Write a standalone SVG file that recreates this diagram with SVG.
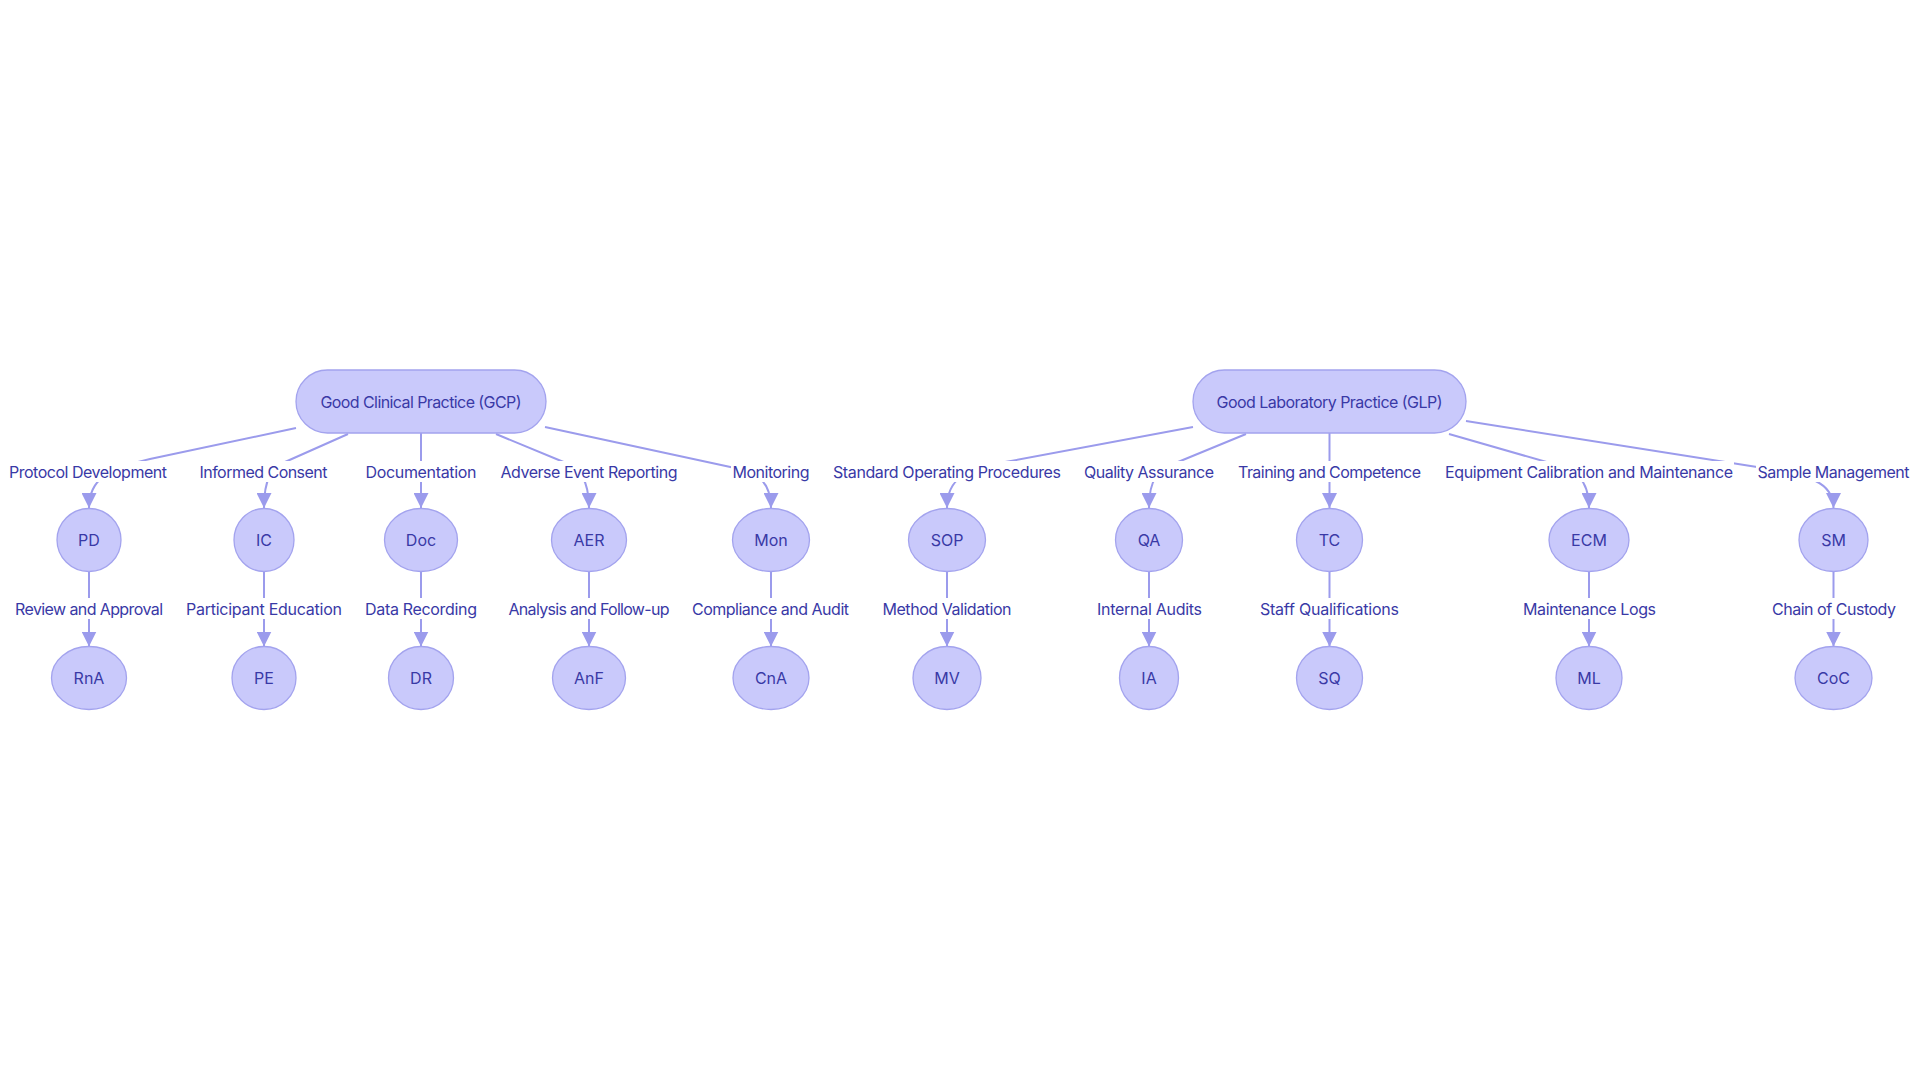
<svg xmlns="http://www.w3.org/2000/svg" width="1920" height="1080" viewBox="0 0 1920 1080">
<style>
.bg{fill:#ffffff}
.node{fill:#c9c9fb;stroke:#a3a3ee;stroke-width:1.3}
.ntext{font-family:Inter,"Noto Sans",sans-serif;font-size:16px;fill:#3939a6;text-anchor:middle}
.edge{fill:none;stroke:#9b9bec;stroke-width:2}
.lbg{fill:#ffffff}
.ltext{font-family:Inter,"Noto Sans",sans-serif;font-size:16px;fill:#3939a6;text-anchor:middle}
</style>
<defs>
<marker id="arr" viewBox="0 0 10 10" refX="10" refY="5" markerUnits="userSpaceOnUse" markerWidth="15" markerHeight="15" orient="auto">
<path d="M0,0 L10,5 L0,10 z" fill="#9b9bec"/>
</marker>
</defs>
<rect class="bg" x="0" y="0" width="1920" height="1080"/>
<g id="connectors">
<path class="edge" marker-end="url(#arr)" d="M296,428 L150,459 C110,468 89,478 89,508"/>
<path class="edge" marker-end="url(#arr)" d="M348,434 L285,462 C272,468 264,478 264,508"/>
<path class="edge" marker-end="url(#arr)" d="M421,433 L421,508"/>
<path class="edge" marker-end="url(#arr)" d="M496,434 L566,463 C578,468 589,478 589,508"/>
<path class="edge" marker-end="url(#arr)" d="M545,427 L735,468 C755,472 771,480 771,508"/>
<path class="edge" marker-end="url(#arr)" d="M1193,427 L1011,461 C965,469 947,478 947,508"/>
<path class="edge" marker-end="url(#arr)" d="M1246,434 L1178,462 C1158,470 1149,478 1149,508"/>
<path class="edge" marker-end="url(#arr)" d="M1329.5,433 L1329.5,508"/>
<path class="edge" marker-end="url(#arr)" d="M1449,434 L1550,463 C1575,470 1589,478 1589,508"/>
<path class="edge" marker-end="url(#arr)" d="M1466,421 L1757,467 C1810,475 1833.5,482 1833.5,508"/>
<path class="edge" marker-end="url(#arr)" d="M89,571.5 L89,646.5"/>
<path class="edge" marker-end="url(#arr)" d="M264,571.5 L264,646.5"/>
<path class="edge" marker-end="url(#arr)" d="M421,571.5 L421,646.5"/>
<path class="edge" marker-end="url(#arr)" d="M589,571.5 L589,646.5"/>
<path class="edge" marker-end="url(#arr)" d="M771,571.5 L771,646.5"/>
<path class="edge" marker-end="url(#arr)" d="M947,571.5 L947,646.5"/>
<path class="edge" marker-end="url(#arr)" d="M1149,571.5 L1149,646.5"/>
<path class="edge" marker-end="url(#arr)" d="M1329.5,571.5 L1329.5,646.5"/>
<path class="edge" marker-end="url(#arr)" d="M1589,571.5 L1589,646.5"/>
<path class="edge" marker-end="url(#arr)" d="M1833.5,571.5 L1833.5,646.5"/>
<g id="edge-labels">
<rect class="lbg" x="8" y="461" width="160" height="21"/><text class="ltext" x="88" y="478" textLength="158" lengthAdjust="spacing">Protocol Development</text>
<rect class="lbg" x="198" y="461" width="131" height="21"/><text class="ltext" x="263.5" y="478" textLength="128" lengthAdjust="spacing">Informed Consent</text>
<rect class="lbg" x="364" y="461" width="114" height="21"/><text class="ltext" x="421" y="478" textLength="111" lengthAdjust="spacing">Documentation</text>
<rect class="lbg" x="499" y="461" width="180" height="21"/><text class="ltext" x="589" y="478" textLength="177" lengthAdjust="spacing">Adverse Event Reporting</text>
<rect class="lbg" x="731" y="461" width="80" height="21"/><text class="ltext" x="771" y="478" textLength="77" lengthAdjust="spacing">Monitoring</text>
<rect class="lbg" x="832" y="461" width="231" height="21"/><text class="ltext" x="947" y="478" textLength="228" lengthAdjust="spacing">Standard Operating Procedures</text>
<rect class="lbg" x="1083" y="461" width="132" height="21"/><text class="ltext" x="1149" y="478" textLength="130" lengthAdjust="spacing">Quality Assurance</text>
<rect class="lbg" x="1237" y="461" width="185" height="21"/><text class="ltext" x="1329.5" y="478" textLength="183" lengthAdjust="spacing">Training and Competence</text>
<rect class="lbg" x="1444" y="461" width="290" height="21"/><text class="ltext" x="1589" y="478" textLength="288" lengthAdjust="spacing">Equipment Calibration and Maintenance</text>
<rect class="lbg" x="1756" y="461" width="155" height="21"/><text class="ltext" x="1833.5" y="478" textLength="152" lengthAdjust="spacing">Sample Management</text>
<rect class="lbg" x="14" y="598" width="150" height="21"/><text class="ltext" x="89" y="615" textLength="148" lengthAdjust="spacing">Review and Approval</text>
<rect class="lbg" x="185" y="598" width="158" height="21"/><text class="ltext" x="264" y="615" textLength="156" lengthAdjust="spacing">Participant Education</text>
<rect class="lbg" x="364" y="598" width="114" height="21"/><text class="ltext" x="421" y="615" textLength="112" lengthAdjust="spacing">Data Recording</text>
<rect class="lbg" x="507" y="598" width="164" height="21"/><text class="ltext" x="589" y="615" textLength="161" lengthAdjust="spacing">Analysis and Follow-up</text>
<rect class="lbg" x="691" y="598" width="159" height="21"/><text class="ltext" x="770.5" y="615" textLength="157" lengthAdjust="spacing">Compliance and Audit</text>
<rect class="lbg" x="881" y="598" width="132" height="21"/><text class="ltext" x="947" y="615" textLength="129" lengthAdjust="spacing">Method Validation</text>
<rect class="lbg" x="1096" y="598" width="107" height="21"/><text class="ltext" x="1149.5" y="615" textLength="105" lengthAdjust="spacing">Internal Audits</text>
<rect class="lbg" x="1259" y="598" width="141" height="21"/><text class="ltext" x="1329.5" y="615" textLength="139" lengthAdjust="spacing">Staff Qualifications</text>
<rect class="lbg" x="1522" y="598" width="135" height="21"/><text class="ltext" x="1589.5" y="615" textLength="133" lengthAdjust="spacing">Maintenance Logs</text>
<rect class="lbg" x="1771" y="598" width="126" height="21"/><text class="ltext" x="1834" y="615" textLength="124" lengthAdjust="spacing">Chain of Custody</text>
</g>
</g>
<g id="GCP"><rect class="node" x="296" y="370" width="250" height="63" rx="31.5" ry="31.5"/><text class="ntext" x="421" y="408" textLength="201" lengthAdjust="spacing">Good Clinical Practice (GCP)</text></g>
<g id="GLP"><rect class="node" x="1193" y="370" width="273" height="63" rx="31.5" ry="31.5"/><text class="ntext" x="1329.5" y="408" textLength="226" lengthAdjust="spacing">Good Laboratory Practice (GLP)</text></g>
<g id="PD"><ellipse class="node" cx="89" cy="540" rx="32" ry="31.5"/><text class="ntext" x="89" y="546">PD</text></g>
<g id="IC"><ellipse class="node" cx="264" cy="540" rx="30" ry="31.5"/><text class="ntext" x="264" y="546">IC</text></g>
<g id="Doc"><ellipse class="node" cx="421" cy="540" rx="36.5" ry="31.5"/><text class="ntext" x="421" y="546">Doc</text></g>
<g id="AER"><ellipse class="node" cx="589" cy="540" rx="37.5" ry="31.5"/><text class="ntext" x="589" y="546">AER</text></g>
<g id="Mon"><ellipse class="node" cx="771" cy="540" rx="38.5" ry="31.5"/><text class="ntext" x="771" y="546">Mon</text></g>
<g id="SOP"><ellipse class="node" cx="947" cy="540" rx="38.5" ry="31.5"/><text class="ntext" x="947" y="546">SOP</text></g>
<g id="QA"><ellipse class="node" cx="1149" cy="540" rx="33.5" ry="31.5"/><text class="ntext" x="1149" y="546">QA</text></g>
<g id="TC"><ellipse class="node" cx="1329.5" cy="540" rx="33" ry="31.5"/><text class="ntext" x="1329.5" y="546">TC</text></g>
<g id="ECM"><ellipse class="node" cx="1589" cy="540" rx="40" ry="31.5"/><text class="ntext" x="1589" y="546">ECM</text></g>
<g id="SM"><ellipse class="node" cx="1833.5" cy="540" rx="34.5" ry="31.5"/><text class="ntext" x="1833.5" y="546">SM</text></g>
<g id="RnA"><ellipse class="node" cx="89" cy="678" rx="37.5" ry="31.5"/><text class="ntext" x="89" y="684">RnA</text></g>
<g id="PE"><ellipse class="node" cx="264" cy="678" rx="32" ry="31.5"/><text class="ntext" x="264" y="684">PE</text></g>
<g id="DR"><ellipse class="node" cx="421" cy="678" rx="32.5" ry="31.5"/><text class="ntext" x="421" y="684">DR</text></g>
<g id="AnF"><ellipse class="node" cx="589" cy="678" rx="36.5" ry="31.5"/><text class="ntext" x="589" y="684">AnF</text></g>
<g id="CnA"><ellipse class="node" cx="771" cy="678" rx="38" ry="31.5"/><text class="ntext" x="771" y="684">CnA</text></g>
<g id="MV"><ellipse class="node" cx="947" cy="678" rx="34" ry="31.5"/><text class="ntext" x="947" y="684">MV</text></g>
<g id="IA"><ellipse class="node" cx="1149" cy="678" rx="29.5" ry="31.5"/><text class="ntext" x="1149" y="684">IA</text></g>
<g id="SQ"><ellipse class="node" cx="1329.5" cy="678" rx="33" ry="31.5"/><text class="ntext" x="1329.5" y="684">SQ</text></g>
<g id="ML"><ellipse class="node" cx="1589" cy="678" rx="33" ry="31.5"/><text class="ntext" x="1589" y="684">ML</text></g>
<g id="CoC"><ellipse class="node" cx="1833.5" cy="678" rx="38.5" ry="31.5"/><text class="ntext" x="1833.5" y="684">CoC</text></g>
</svg>
